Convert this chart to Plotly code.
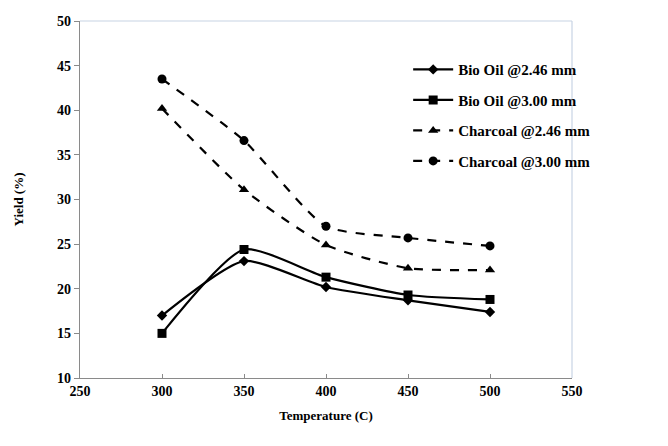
import plotly.graph_objects as go

temperature = [300, 350, 400, 450, 500]
bio_oil_246 = [17.0, 23.1, 20.2, 18.7, 17.4]
bio_oil_300 = [15.0, 24.4, 21.3, 19.3, 18.8]
charcoal_246 = [40.2, 31.1, 24.9, 22.3, 22.1]
charcoal_300 = [43.5, 36.6, 27.0, 25.7, 24.8]

series = [
    ("Bio Oil @2.46 mm", bio_oil_246, "solid", "diamond", 8),
    ("Bio Oil @3.00 mm", bio_oil_300, "solid", "square", 9),
    ("Charcoal @2.46 mm", charcoal_246, "dash", "triangle-up", 9),
    ("Charcoal @3.00 mm", charcoal_300, "dash", "circle", 9),
]

font_family = "Liberation Serif, Times New Roman, serif"

fig = go.Figure()
for i, (name, vals, dash, sym, size) in enumerate(series):
    fig.add_trace(go.Scatter(
        x=temperature, y=vals, name=name, mode="lines+markers",
        legendgroup=f"g{i}",
        line=dict(color="black", width=2.2, dash=dash, shape="spline", smoothing=0.6),
        marker=dict(symbol=sym, size=size, color="black"),
    ))

fig.update_layout(
    width=668, height=446,
    margin=dict(l=80, r=96, t=21, b=68),
    paper_bgcolor="white", plot_bgcolor="white",
    font=dict(family=font_family, color="black"),
    showlegend=True,
    legend=dict(
        x=0.667, y=0.91, xanchor="left", yanchor="top",
        font=dict(family=font_family, size=15, color="black", weight="bold"),
        bgcolor="rgba(0,0,0,0)", tracegroupgap=8, itemwidth=40,
    ),
    xaxis=dict(
        range=[250, 550], tickvals=[250, 300, 350, 400, 450, 500, 550],
        showgrid=False, zeroline=False,
        showline=True, linecolor="#8a8a8a", linewidth=1.2, mirror=False,
        ticks="inside", ticklen=4, tickcolor="#8a8a8a",
        tickfont=dict(family=font_family, size=14, color="black", weight="bold"),
        title=dict(text="Temperature (C)", standoff=12,
                   font=dict(family=font_family, size=13, color="black", weight="bold")),
    ),
    yaxis=dict(
        range=[10, 50], tickvals=[10, 15, 20, 25, 30, 35, 40, 45, 50],
        showgrid=False, zeroline=False,
        showline=True, linecolor="#8a8a8a", linewidth=1.2,
        ticks="outside", ticklen=5, tickcolor="#8a8a8a",
        tickfont=dict(family=font_family, size=14, color="black", weight="bold"),
        title=dict(text="Yield (%)", standoff=30,
                   font=dict(family=font_family, size=13, color="black", weight="bold")),
    ),
    shapes=[
        dict(type="line", xref="paper", yref="paper", x0=0, x1=1, y0=1, y1=1,
             line=dict(color="#c8d4e4", width=1.2)),
        dict(type="line", xref="paper", yref="paper", x0=1, x1=1, y0=0, y1=1,
             line=dict(color="#c8d4e4", width=1.2)),
    ],
)

fig.write_html("out.html")
